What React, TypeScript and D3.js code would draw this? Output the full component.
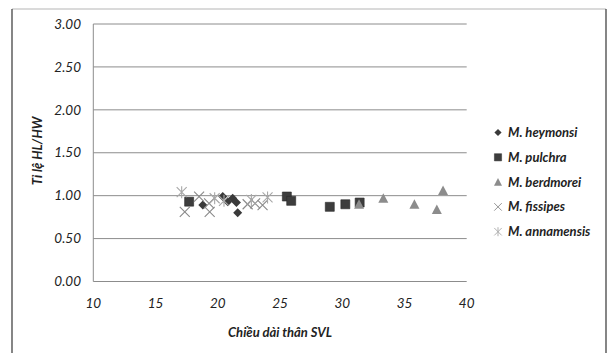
import React, { useEffect, useRef } from 'react';
import * as d3 from 'd3';

// [SVL, HL/HW]
const heymonsi: [number, number][] = [
  [18.8, 0.89], [20.4, 0.99], [20.8, 0.93], [21.2, 0.97], [21.5, 0.92], [21.6, 0.8],
];
const pulchra: [number, number][] = [
  [17.7, 0.93], [25.55, 0.99], [25.9, 0.94], [29.0, 0.87], [30.25, 0.9], [31.4, 0.92],
];
const berdmorei: [number, number][] = [
  [31.35, 0.9], [33.3, 0.97], [35.8, 0.9], [37.6, 0.84], [38.1, 1.06],
];
const fissipes: [number, number][] = [
  [17.35, 0.81], [18.5, 0.99], [19.35, 0.81], [19.3, 0.91], [22.4, 0.9], [23.0, 0.91], [23.6, 0.89],
];
const annamensis: [number, number][] = [
  [17.1, 1.04], [19.75, 0.97], [20.5, 0.94], [22.7, 0.95], [24.0, 0.98],
];

const xTicks = [10, 15, 20, 25, 30, 35, 40];
const yTicks = [0, 0.5, 1, 1.5, 2, 2.5, 3];

const seriesNames = ['M. heymonsi', 'M. pulchra', 'M. berdmorei', 'M. fissipes', 'M. annamensis'];
const seriesData = [heymonsi, pulchra, berdmorei, fissipes, annamensis];

const markerPath = (kind: number) => {
  switch (kind) {
    case 0: return 'M0,-4.5L4.5,0L0,4.5L-4.5,0Z';
    case 1: return 'M-4.5,-4.5H4.5V4.5H-4.5Z';
    case 2: return 'M0,-5L5,4.5H-5Z';
    case 3: return 'M-5,-5L5,5M5,-5L-5,5';
    default: return 'M-5,-5L5,5M5,-5L-5,5M0,-6V6';
  }
};
const fills = ['#3a3a3a', '#3d3d3d', '#8c8c8c', 'none', 'none'];
const strokes = ['none', '#2a2a2a', 'none', '#8a8a8a', '#a8a8a8'];

export default function App() {
  const ref = useRef<SVGSVGElement>(null);

  useEffect(() => {
    const svg = d3.select(ref.current);
    svg.selectAll('*').remove();

    const x = d3.scaleLinear().domain([10, 40]).range([93.3, 466.7]);
    const y = d3.scaleLinear().domain([0, 3]).range([281.5, 24]);
    const font = 'Lato, "Open Sans", sans-serif';

    // frame
    svg.append('line').attr('x1', 12).attr('x2', 606).attr('y1', 9).attr('y2', 9)
      .attr('stroke', '#b5b5b5').attr('stroke-width', 1.2);
    svg.append('line').attr('x1', 12).attr('x2', 12).attr('y1', 9).attr('y2', 353)
      .attr('stroke', '#444').attr('stroke-width', 1.3);
    svg.append('line').attr('x1', 606).attr('x2', 606).attr('y1', 9).attr('y2', 353)
      .attr('stroke', '#444').attr('stroke-width', 1.3);

    // gridlines
    svg.append('g').selectAll('line').data(yTicks).enter().append('line')
      .attr('x1', x(10)).attr('x2', x(40))
      .attr('y1', d => y(d)).attr('y2', d => y(d))
      .attr('stroke', '#8c8c8c').attr('stroke-width', 1);
    svg.append('line').attr('x1', x(10)).attr('x2', x(10)).attr('y1', y(3)).attr('y2', y(0))
      .attr('stroke', '#8c8c8c').attr('stroke-width', 1);

    // tick labels
    svg.append('g').selectAll('text').data(yTicks).enter().append('text')
      .attr('x', 81).attr('y', d => y(d)).attr('dy', '0.35em')
      .attr('text-anchor', 'end').attr('font-family', font).attr('font-style', 'italic')
      .attr('font-size', 13.5).attr('fill', '#222')
      .text(d => d3.format('.2f')(d));
    svg.append('g').selectAll('text').data(xTicks).enter().append('text')
      .attr('x', d => x(d)).attr('y', 303).attr('dy', '0.35em')
      .attr('text-anchor', 'middle').attr('font-family', font).attr('font-style', 'italic')
      .attr('font-size', 13.5).attr('fill', '#222')
      .text(d => d);

    // axis titles
    svg.append('text').attr('x', 280).attr('y', 332).attr('dy', '0.35em')
      .attr('text-anchor', 'middle').attr('font-family', font).attr('font-style', 'italic')
      .attr('font-weight', 'bold').attr('font-size', 13).attr('fill', '#222')
      .text('Chiều dài thân SVL');
    svg.append('text').attr('transform', 'translate(37,151) rotate(-90)').attr('dy', '0.35em')
      .attr('text-anchor', 'middle').attr('font-family', font).attr('font-style', 'italic')
      .attr('font-weight', 'bold').attr('font-size', 13).attr('fill', '#222')
      .text('Tỉ lệ HL/HW');

    // points (draw in series order)
    seriesData.forEach((data, i) => {
      svg.append('g').selectAll('path').data(data).enter().append('path')
        .attr('transform', d => `translate(${x(d[0])},${y(d[1])})`)
        .attr('d', markerPath(i))
        .attr('fill', fills[i]).attr('stroke', strokes[i])
        .attr('stroke-width', i >= 3 ? 1.1 : 0.6);
    });

    // legend
    const legend = svg.append('g').selectAll('g').data(seriesNames).enter().append('g')
      .attr('transform', (d, i) => `translate(498,${132.5 + i * 24.8})`);
    legend.append('path')
      .attr('d', (d, i) => markerPath(i))
      .attr('transform', (d, i) => (i >= 3 ? 'scale(0.75)' : 'scale(0.8)'))
      .attr('fill', (d, i) => fills[i]).attr('stroke', (d, i) => strokes[i])
      .attr('stroke-width', (d, i) => (i >= 3 ? 1.2 : 0.6));
    legend.append('text').attr('x', 10).attr('dy', '0.35em')
      .attr('font-family', font).attr('font-style', 'italic').attr('font-weight', 'bold')
      .attr('font-size', 13).attr('fill', '#222')
      .text(d => d);
  }, []);

  return (
    <svg ref={ref} width={612} height={353}
      style={{ position: 'absolute', left: 0, top: 0, background: 'white' }} />
  );
}
